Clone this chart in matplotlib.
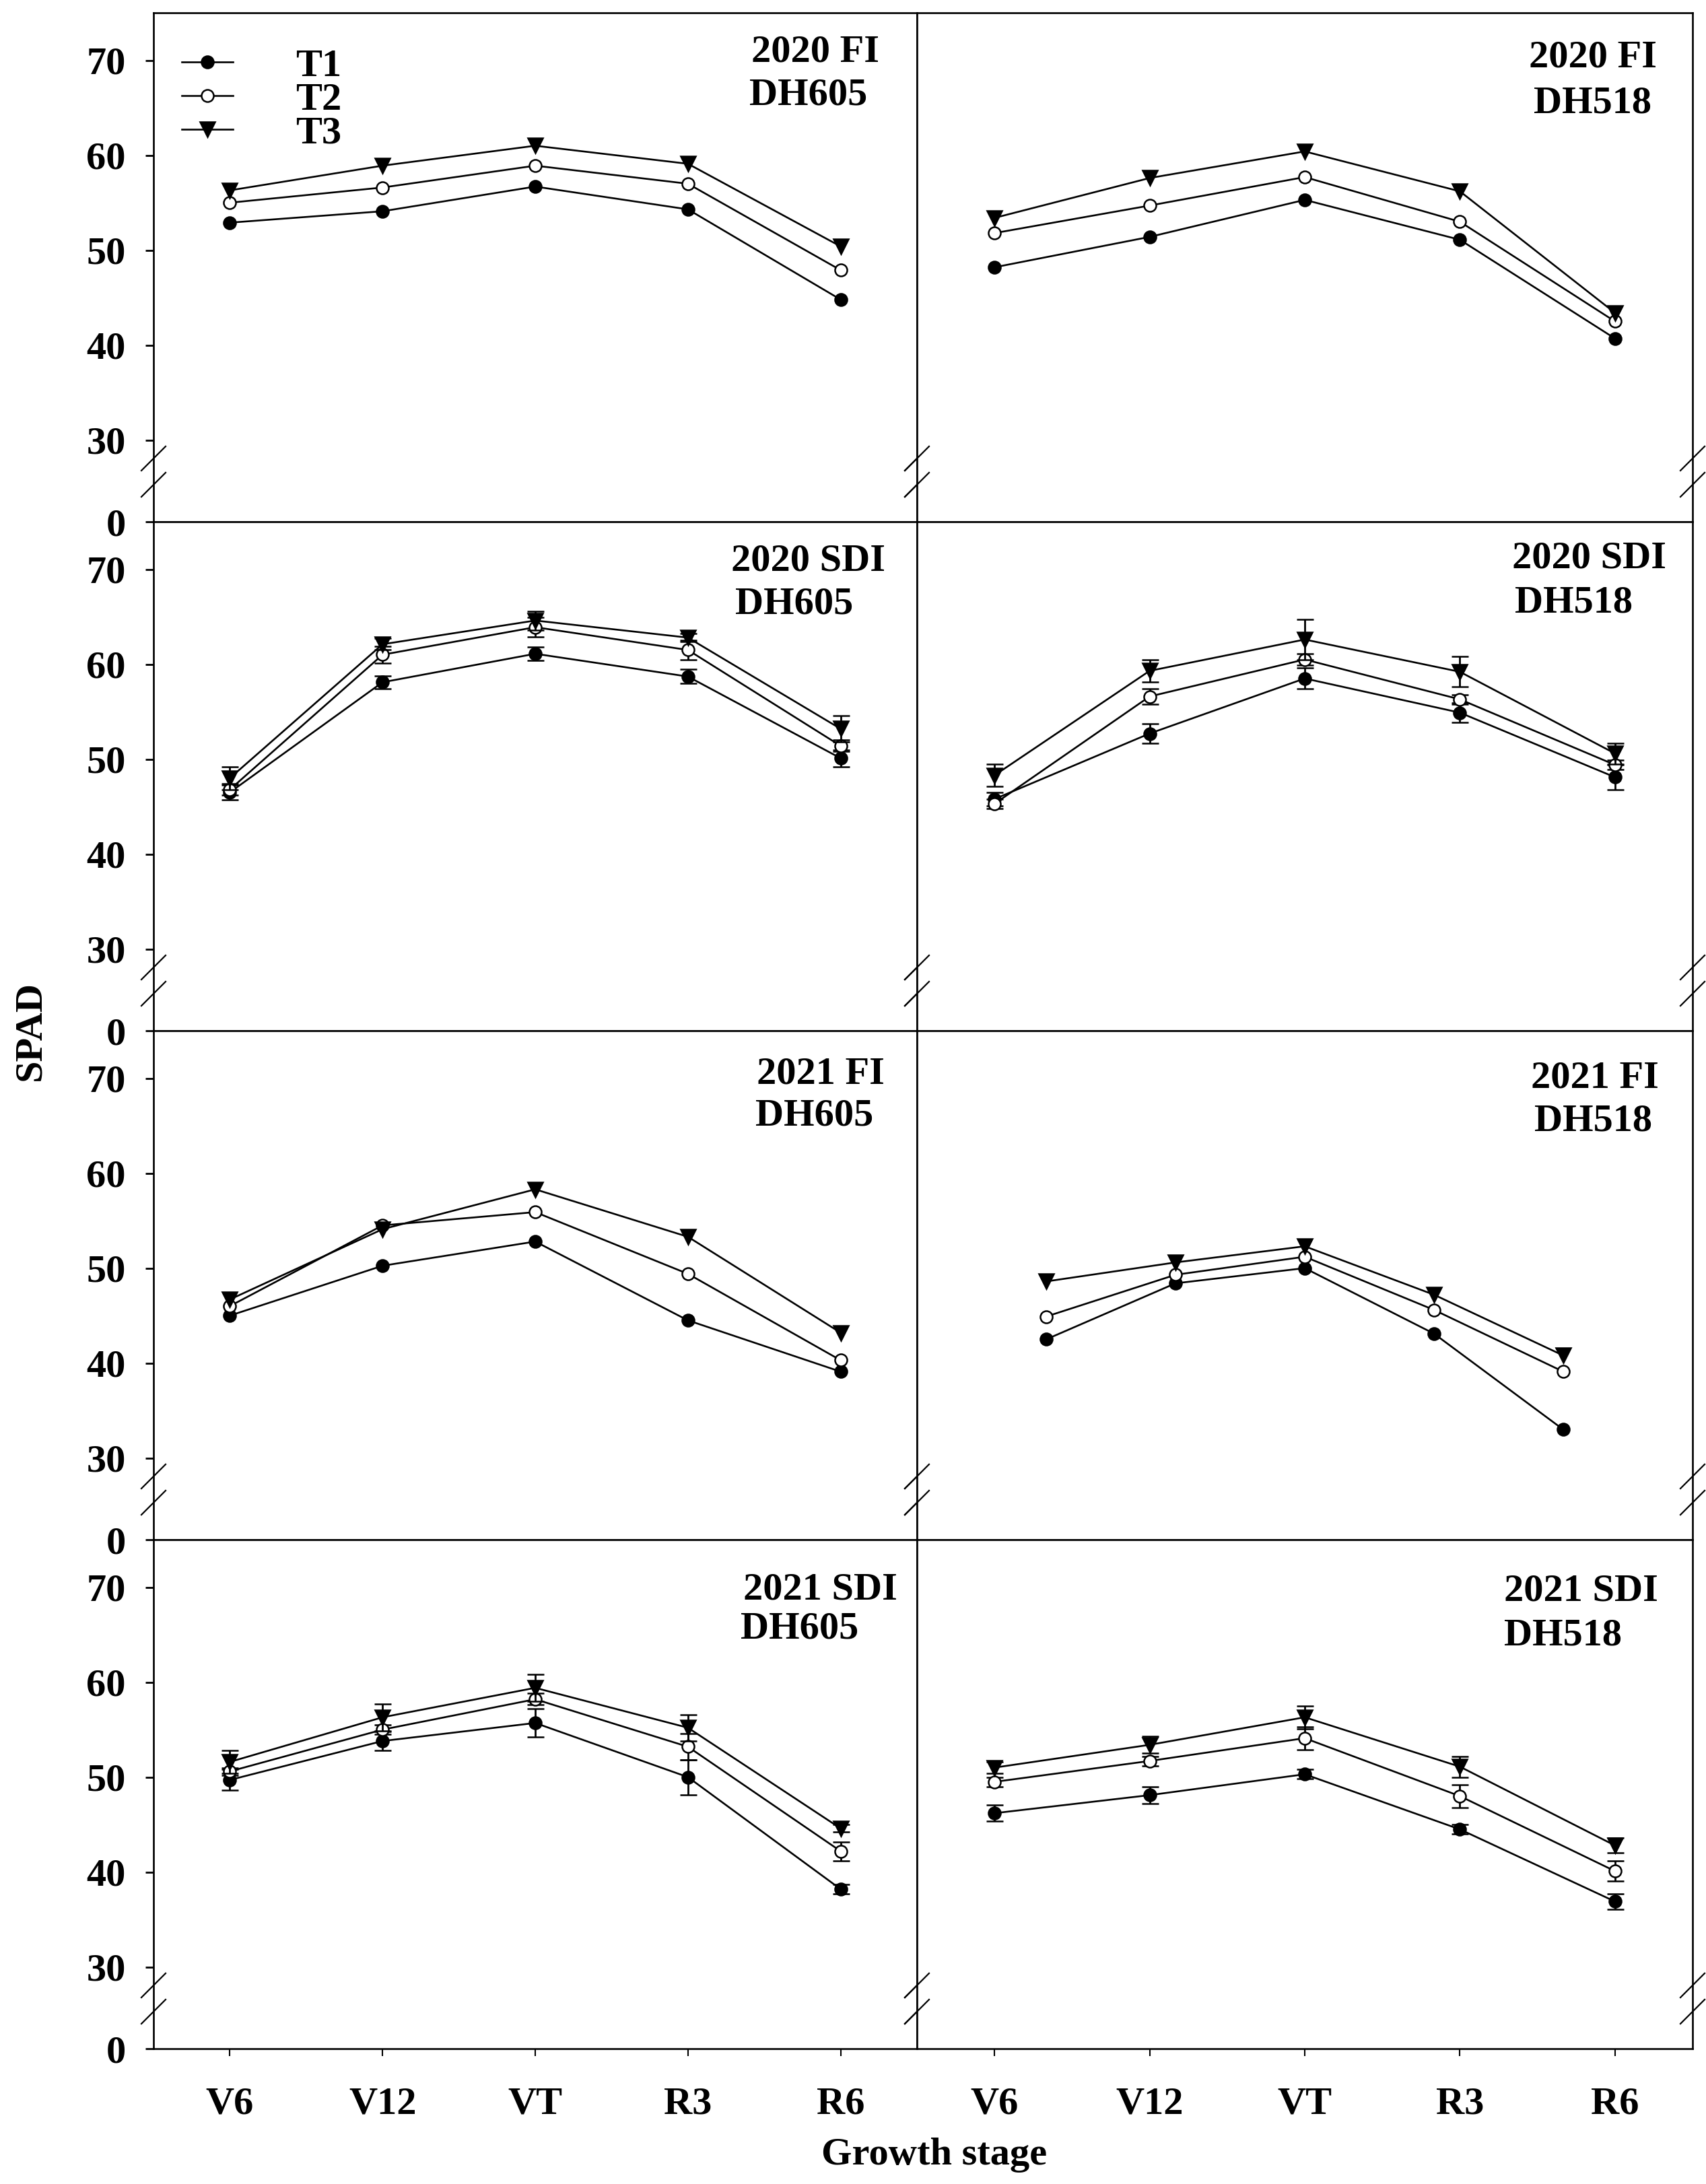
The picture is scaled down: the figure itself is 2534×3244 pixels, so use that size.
import numpy as np
import matplotlib
matplotlib.use("Agg")
import matplotlib.pyplot as plt
from matplotlib.lines import Line2D

plt.rcParams['font.family'] = ['Liberation Serif', 'DejaVu Serif']
plt.rcParams['font.weight'] = 'bold'

# ---------------- data ----------------
stages = ["V6", "V12", "VT", "R3", "R6"]
treatments = ["T1", "T2", "T3"]

# 2020 FI DH605
fi20_605_t1 = [52.9, 54.1, 56.7, 54.3, 44.8]
fi20_605_t2 = [55.0, 56.6, 58.9, 57.0, 47.9]
fi20_605_t3 = [56.3, 58.9, 61.0, 59.1, 50.4]
# 2020 FI DH518
fi20_518_t1 = [48.2, 51.4, 55.3, 51.1, 40.7]
fi20_518_t2 = [51.8, 54.7, 57.7, 53.0, 42.5]
fi20_518_t3 = [53.4, 57.6, 60.4, 56.2, 43.4]
# 2020 SDI DH605
sdi20_605_t1 = [46.5, 58.1, 61.1, 58.7, 50.1]
sdi20_605_t2 = [46.8, 61.0, 63.9, 61.5, 51.4]
sdi20_605_t3 = [48.0, 62.1, 64.6, 62.8, 53.2]
sdi20_605_t1_err = [0.8, 0.65, 0.7, 0.75, 0.9]
sdi20_605_t2_err = [0.6, 0.9, 1.0, 1.0, 0.6]
sdi20_605_t3_err = [1.2, 0.6, 1.0, 0.4, 1.4]
# 2020 SDI DH518
sdi20_518_t1 = [45.8, 52.7, 58.5, 54.9, 48.1]
sdi20_518_t2 = [45.3, 56.6, 60.5, 56.3, 49.4]
sdi20_518_t3 = [48.3, 59.3, 62.6, 59.2, 50.6]
sdi20_518_t1_err = [0.7, 1.05, 1.1, 1.05, 1.3]
sdi20_518_t2_err = [0.5, 0.8, 0.6, 0.5, 0.5]
sdi20_518_t3_err = [1.15, 1.2, 2.1, 1.6, 1.1]
# 2021 FI DH605
fi21_605_t1 = [45.0, 50.25, 52.8, 44.5, 39.1]
fi21_605_t2 = [46.0, 54.5, 55.9, 49.4, 40.3]
fi21_605_t3 = [46.7, 54.1, 58.3, 53.3, 43.2]
# 2021 FI DH518
fi21_518_t1 = [42.5, 48.4, 50.0, 43.1, 33.0]
fi21_518_t2 = [44.9, 49.3, 51.2, 45.6, 39.1]
fi21_518_t3 = [48.6, 50.6, 52.3, 47.2, 40.8]
# 2021 SDI DH605
sdi21_605_t1 = [49.7, 53.8, 55.7, 50.0, 38.2]
sdi21_605_t2 = [50.6, 55.0, 58.2, 53.2, 42.2]
sdi21_605_t3 = [51.6, 56.3, 59.4, 55.2, 44.6]
sdi21_605_t1_err = [1.1, 1.0, 1.5, 1.85, 0.5]
sdi21_605_t2_err = [0.4, 0.5, 0.6, 1.4, 1.0]
sdi21_605_t3_err = [1.2, 1.4, 1.4, 1.4, 0.4]
# 2021 SDI DH518
sdi21_518_t1 = [46.2, 48.1, 50.3, 44.5, 36.9]
sdi21_518_t2 = [49.5, 51.7, 54.1, 48.0, 40.1]
sdi21_518_t3 = [51.0, 53.4, 56.3, 51.1, 42.8]
sdi21_518_t1_err = [0.85, 0.9, 0.5, 0.5, 0.8]
sdi21_518_t2_err = [0.5, 0.5, 1.2, 1.2, 1.05]
sdi21_518_t3_err = [0.6, 0.9, 1.2, 1.1, 0.8]

yticks = [0, 30, 40, 50, 60, 70]

# ---------------- layout ----------------
W, H = 2534, 3244
DPI = 100
fig = plt.figure(figsize=(W / DPI, H / DPI), dpi=DPI)

FS = 42
LW = 1.9

# broken axis: lower segment [0, L], upper [U, 75]
L_BRK, U_BRK = 5.3, 26.7


def fwd(v):
    v = np.asarray(v, dtype=float)
    return np.where(v >= U_BRK, v - (U_BRK - L_BRK), np.where(v <= L_BRK, v, L_BRK))


def inv(t):
    t = np.asarray(t, dtype=float)
    return np.where(t > L_BRK, t + (U_BRK - L_BRK), t)


row_top0 = 19
row_h = 756
col_x = [(228, 1362), (1362, 2514)]

panels = [
    (0, 0, [fi20_605_t1, fi20_605_t2, fi20_605_t3], None,
     "2020 FI", "DH605", [(1211, 91), (1201, 156)], (0.5, 5.5)),
    (0, 1, [fi20_518_t1, fi20_518_t2, fi20_518_t3], None,
     "2020 FI", "DH518", [(2366, 99), (2366, 168)], (0.5, 5.5)),
    (1, 0, [sdi20_605_t1, sdi20_605_t2, sdi20_605_t3],
     [sdi20_605_t1_err, sdi20_605_t2_err, sdi20_605_t3_err],
     "2020 SDI", "DH605", [(1200, 847), (1180, 911)], (0.5, 5.5)),
    (1, 1, [sdi20_518_t1, sdi20_518_t2, sdi20_518_t3],
     [sdi20_518_t1_err, sdi20_518_t2_err, sdi20_518_t3_err],
     "2020 SDI", "DH518", [(2360, 844), (2338, 909)], (0.5, 5.5)),
    (2, 0, [fi21_605_t1, fi21_605_t2, fi21_605_t3], None,
     "2021 FI", "DH605", [(1219, 1610), (1210, 1671)], (0.5, 5.5)),
    (2, 1, [fi21_518_t1, fi21_518_t2, fi21_518_t3], None,
     "2021 FI", "DH518", [(2369, 1615), (2367, 1679)], (0.0, 6.0)),
    (3, 0, [sdi21_605_t1, sdi21_605_t2, sdi21_605_t3],
     [sdi21_605_t1_err, sdi21_605_t2_err, sdi21_605_t3_err],
     "2021 SDI", "DH605", [(1218, 2376), (1188, 2433)], (0.5, 5.5)),
    (3, 1, [sdi21_518_t1, sdi21_518_t2, sdi21_518_t3],
     [sdi21_518_t1_err, sdi21_518_t2_err, sdi21_518_t3_err],
     "2021 SDI", "DH518", [(2348, 2377), (2322, 2443)], (0.5, 5.5)),
]

styles = [
    dict(marker='o', markersize=13, markerfacecolor='black', markeredgecolor='black'),
    dict(marker='o', markersize=13, markerfacecolor='white', markeredgecolor='black'),
    dict(marker='v', markersize=16, markerfacecolor='black', markeredgecolor='black'),
]

x = np.arange(1, len(stages) + 1)
first_ax = None

for (r, c, series, errs, t1, t2, lpos, xl) in panels:
    x0, x1 = col_x[c]
    top = row_top0 + r * row_h
    bottom = top + row_h
    ax = fig.add_axes([x0 / W, 1 - bottom / H, (x1 - x0) / W, row_h / H])
    ax.set_yscale('function', functions=(fwd, inv))
    ax.set_ylim(0, 75)
    ax.set_xlim(*xl)
    for i, ys in enumerate(series):
        if errs is not None:
            ax.errorbar(x, ys, yerr=errs[i], color='black', lw=LW, capsize=9,
                        capthick=2.0, elinewidth=2.0, markeredgewidth=1.8,
                        zorder=3 + i, **styles[i])
        else:
            ax.plot(x, ys, color='black', lw=LW, markeredgewidth=1.8,
                    zorder=3 + i, **styles[i])
    for s in ax.spines.values():
        s.set_linewidth(1.9)
    ax.set_yticks(yticks)
    if c == 0:
        ax.set_yticklabels([str(v) for v in yticks])
        ax.tick_params(axis='y', direction='out', length=8.6, width=2,
                       pad=21, labelsize=FS)
    else:
        ax.tick_params(axis='y', length=0, labelleft=False)
    ax.set_xticks(x)
    if r == 3:
        ax.set_xticklabels(stages)
        ax.tick_params(axis='x', direction='out', length=8, width=1.5,
                       pad=33, labelsize=FS)
    else:
        ax.tick_params(axis='x', length=0, labelbottom=False)
    ax.minorticks_off()
    # break marks
    wpx = x1 - x0
    for xs in (0.0, 1.0):
        for yc in (94, 55):
            ax.plot([xs - 18 / wpx, xs + 18 / wpx],
                    [(yc - 18) / row_h, (yc + 18) / row_h],
                    transform=ax.transAxes, color='black', lw=1.6,
                    clip_on=False, zorder=10)
    for txt, (px, py) in zip([t1, t2], lpos):
        fig.text(px / W, 1 - py / H, txt, ha='center', va='baseline',
                 fontsize=FS, fontweight='bold')
    if first_ax is None:
        first_ax = ax

# legend
handles = [Line2D([0], [0], color='black', lw=LW, markeredgewidth=1.8, **s)
           for s in styles]
first_ax.legend(handles, treatments, loc='upper left',
                bbox_to_anchor=(0.037, 0.93), frameon=False,
                handlelength=1.3, handletextpad=1.6, labelspacing=-0.05,
                borderpad=0, borderaxespad=0, numpoints=1,
                prop=dict(size=FS, weight='bold'))

fig.text(45 / W, 1 - 1531 / H, "SPAD", rotation=90, ha='center', va='center',
         fontsize=FS, fontweight='bold')
fig.text(1388 / W, 1 - 3215 / H, "Growth stage", ha='center', va='baseline',
         fontsize=FS, fontweight='bold')

fig.savefig("out.png", dpi=DPI)
